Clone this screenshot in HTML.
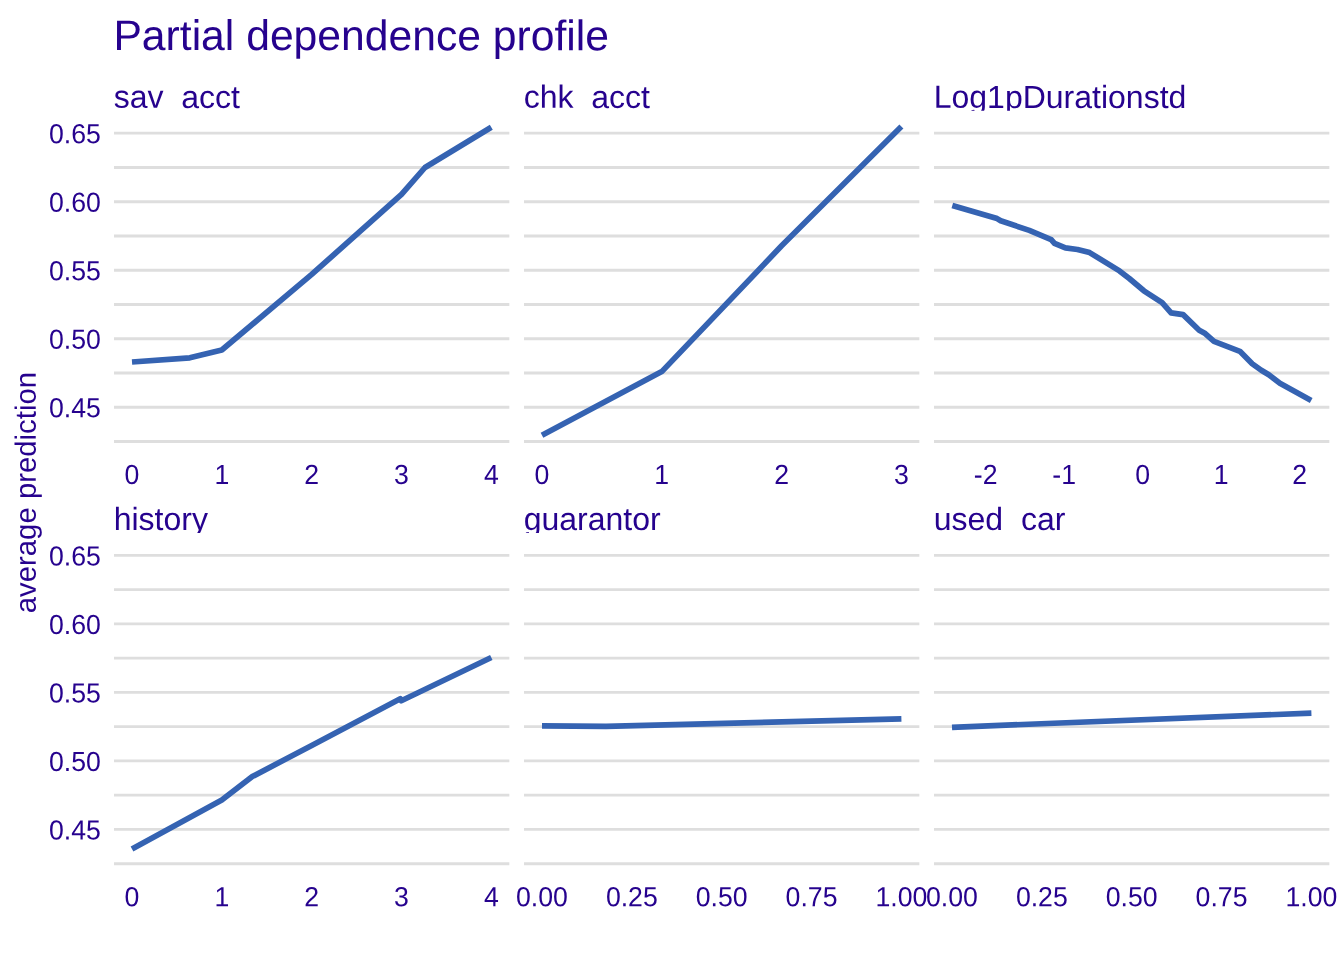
<!DOCTYPE html>
<html lang="en"><head><meta charset="utf-8"><title>Partial dependence profile</title>
<style>html,body{margin:0;padding:0;background:#fff}body{width:1344px;height:960px;overflow:hidden}svg{display:block}text{font-family:"Liberation Sans",sans-serif;fill:#26028e}.g{stroke:#dedede;stroke-width:2.845;fill:none}.l{stroke:#3563b2;stroke-width:5.69;fill:none;stroke-linejoin:round;stroke-linecap:butt}.t{font-size:42.67px}.s{font-size:32px}.a{font-size:26.67px}.y{font-size:29.33px}</style></head><body>
<svg width="1344" height="960" viewBox="0 0 1344 960">
<rect width="1344" height="960" fill="#fff"/>
<defs>
<clipPath id="s00"><rect x="114.00" y="70.70" width="395.33" height="40.00"/></clipPath>
<clipPath id="s01"><rect x="524.00" y="70.70" width="395.33" height="40.00"/></clipPath>
<clipPath id="s02"><rect x="934.00" y="70.70" width="395.33" height="40.00"/></clipPath>
<clipPath id="s10"><rect x="114.00" y="492.90" width="395.33" height="40.00"/></clipPath>
<clipPath id="s11"><rect x="524.00" y="492.90" width="395.33" height="40.00"/></clipPath>
<clipPath id="s12"><rect x="934.00" y="492.90" width="395.33" height="40.00"/></clipPath>
</defs>
<text class="t" transform="translate(113.40,50.00) rotate(0.03)">Partial dependence profile</text>
<text class="y" transform="translate(35.7,492.6) rotate(-90.03)" text-anchor="middle">average prediction</text>
<path class="g" d="M114.00 441.51H509.33M114.00 407.25H509.33M114.00 372.99H509.33M114.00 338.74H509.33M114.00 304.48H509.33M114.00 270.22H509.33M114.00 235.97H509.33M114.00 201.71H509.33M114.00 167.46H509.33M114.00 133.20H509.33"/>
<path class="l" d="M132.0 362.0 L189.8 357.8 L221.8 350.0 L311.7 274.4 L401.5 194.4 L425.0 167.5 L491.3 127.3"/>
<g clip-path="url(#s00)"><text class="s" transform="translate(113.70,107.85) rotate(0.03)">sav_acct</text></g>
<text class="a" transform="translate(131.97,484.07) scale(1,1.04) rotate(0.03)" text-anchor="middle">0</text>
<text class="a" transform="translate(221.82,484.07) scale(1,1.04) rotate(0.03)" text-anchor="middle">1</text>
<text class="a" transform="translate(311.66,484.07) scale(1,1.04) rotate(0.03)" text-anchor="middle">2</text>
<text class="a" transform="translate(401.51,484.07) scale(1,1.04) rotate(0.03)" text-anchor="middle">3</text>
<text class="a" transform="translate(491.36,484.07) scale(1,1.04) rotate(0.03)" text-anchor="middle">4</text>
<path class="g" d="M524.00 441.51H919.33M524.00 407.25H919.33M524.00 372.99H919.33M524.00 338.74H919.33M524.00 304.48H919.33M524.00 270.22H919.33M524.00 235.97H919.33M524.00 201.71H919.33M524.00 167.46H919.33M524.00 133.20H919.33"/>
<path class="l" d="M542.0 435.2 L661.8 371.6 L781.6 245.8 L901.4 126.4"/>
<g clip-path="url(#s01)"><text class="s" transform="translate(523.70,107.85) rotate(0.03)">chk_acct</text></g>
<text class="a" transform="translate(541.97,484.07) scale(1,1.04) rotate(0.03)" text-anchor="middle">0</text>
<text class="a" transform="translate(661.77,484.07) scale(1,1.04) rotate(0.03)" text-anchor="middle">1</text>
<text class="a" transform="translate(781.56,484.07) scale(1,1.04) rotate(0.03)" text-anchor="middle">2</text>
<text class="a" transform="translate(901.36,484.07) scale(1,1.04) rotate(0.03)" text-anchor="middle">3</text>
<path class="g" d="M934.00 441.51H1329.33M934.00 407.25H1329.33M934.00 372.99H1329.33M934.00 338.74H1329.33M934.00 304.48H1329.33M934.00 270.22H1329.33M934.00 235.97H1329.33M934.00 201.71H1329.33M934.00 167.46H1329.33M934.00 133.20H1329.33"/>
<path class="l" d="M952.3 205.4 L997.1 218.6 L1000.7 220.8 L1029.3 230.4 L1051.2 239.6 L1054.5 243.3 L1065.4 247.9 L1077.5 249.5 L1089.6 252.6 L1119.5 270.9 L1129.3 278.5 L1143.9 290.8 L1162.1 302.6 L1171.1 312.9 L1183.1 314.6 L1199.2 330.3 L1205.2 333.6 L1214.0 341.4 L1239.9 351.3 L1252.2 363.7 L1261.3 370.2 L1268.8 374.7 L1279.9 383.3 L1311.2 400.4"/>
<g clip-path="url(#s02)"><text class="s" transform="translate(933.70,107.85) rotate(0.03)">Log1pDurationstd</text></g>
<text class="a" transform="translate(985.70,484.07) scale(1,1.04) rotate(0.03)" text-anchor="middle">-2</text>
<text class="a" transform="translate(1064.20,484.07) scale(1,1.04) rotate(0.03)" text-anchor="middle">-1</text>
<text class="a" transform="translate(1142.70,484.07) scale(1,1.04) rotate(0.03)" text-anchor="middle">0</text>
<text class="a" transform="translate(1221.20,484.07) scale(1,1.04) rotate(0.03)" text-anchor="middle">1</text>
<text class="a" transform="translate(1299.70,484.07) scale(1,1.04) rotate(0.03)" text-anchor="middle">2</text>
<text class="a" transform="translate(100.90,417.33) scale(1,1.04) rotate(0.03)" text-anchor="end">0.45</text>
<text class="a" transform="translate(100.90,348.82) scale(1,1.04) rotate(0.03)" text-anchor="end">0.50</text>
<text class="a" transform="translate(100.90,280.30) scale(1,1.04) rotate(0.03)" text-anchor="end">0.55</text>
<text class="a" transform="translate(100.90,211.79) scale(1,1.04) rotate(0.03)" text-anchor="end">0.60</text>
<text class="a" transform="translate(100.90,143.28) scale(1,1.04) rotate(0.03)" text-anchor="end">0.65</text>
<path class="g" d="M114.00 863.71H509.33M114.00 829.45H509.33M114.00 795.19H509.33M114.00 760.94H509.33M114.00 726.68H509.33M114.00 692.42H509.33M114.00 658.17H509.33M114.00 623.91H509.33M114.00 589.66H509.33M114.00 555.40H509.33"/>
<path class="l" d="M132.0 848.9 L221.8 800.0 L252.3 776.6 L311.7 745.4 L400.3 698.7 L401.3 700.7 L491.3 657.5"/>
<g clip-path="url(#s10)"><text class="s" transform="translate(113.70,530.05) rotate(0.03)">history</text></g>
<text class="a" transform="translate(131.97,906.27) scale(1,1.04) rotate(0.03)" text-anchor="middle">0</text>
<text class="a" transform="translate(221.82,906.27) scale(1,1.04) rotate(0.03)" text-anchor="middle">1</text>
<text class="a" transform="translate(311.66,906.27) scale(1,1.04) rotate(0.03)" text-anchor="middle">2</text>
<text class="a" transform="translate(401.51,906.27) scale(1,1.04) rotate(0.03)" text-anchor="middle">3</text>
<text class="a" transform="translate(491.36,906.27) scale(1,1.04) rotate(0.03)" text-anchor="middle">4</text>
<path class="g" d="M524.00 863.71H919.33M524.00 829.45H919.33M524.00 795.19H919.33M524.00 760.94H919.33M524.00 726.68H919.33M524.00 692.42H919.33M524.00 658.17H919.33M524.00 623.91H919.33M524.00 589.66H919.33M524.00 555.40H919.33"/>
<path class="l" d="M542.0 725.8 L606.0 726.4 L901.4 718.8"/>
<g clip-path="url(#s11)"><text class="s" transform="translate(523.70,530.05) rotate(0.03)">guarantor</text></g>
<text class="a" transform="translate(541.97,906.27) scale(1,1.04) rotate(0.03)" text-anchor="middle">0.00</text>
<text class="a" transform="translate(631.82,906.27) scale(1,1.04) rotate(0.03)" text-anchor="middle">0.25</text>
<text class="a" transform="translate(721.66,906.27) scale(1,1.04) rotate(0.03)" text-anchor="middle">0.50</text>
<text class="a" transform="translate(811.51,906.27) scale(1,1.04) rotate(0.03)" text-anchor="middle">0.75</text>
<text class="a" transform="translate(901.36,906.27) scale(1,1.04) rotate(0.03)" text-anchor="middle">1.00</text>
<path class="g" d="M934.00 863.71H1329.33M934.00 829.45H1329.33M934.00 795.19H1329.33M934.00 760.94H1329.33M934.00 726.68H1329.33M934.00 692.42H1329.33M934.00 658.17H1329.33M934.00 623.91H1329.33M934.00 589.66H1329.33M934.00 555.40H1329.33"/>
<path class="l" d="M952.0 727.3 L1311.4 713.1"/>
<g clip-path="url(#s12)"><text class="s" transform="translate(933.70,530.05) rotate(0.03)">used_car</text></g>
<text class="a" transform="translate(951.97,906.27) scale(1,1.04) rotate(0.03)" text-anchor="middle">0.00</text>
<text class="a" transform="translate(1041.82,906.27) scale(1,1.04) rotate(0.03)" text-anchor="middle">0.25</text>
<text class="a" transform="translate(1131.66,906.27) scale(1,1.04) rotate(0.03)" text-anchor="middle">0.50</text>
<text class="a" transform="translate(1221.51,906.27) scale(1,1.04) rotate(0.03)" text-anchor="middle">0.75</text>
<text class="a" transform="translate(1311.36,906.27) scale(1,1.04) rotate(0.03)" text-anchor="middle">1.00</text>
<text class="a" transform="translate(100.90,839.53) scale(1,1.04) rotate(0.03)" text-anchor="end">0.45</text>
<text class="a" transform="translate(100.90,771.02) scale(1,1.04) rotate(0.03)" text-anchor="end">0.50</text>
<text class="a" transform="translate(100.90,702.50) scale(1,1.04) rotate(0.03)" text-anchor="end">0.55</text>
<text class="a" transform="translate(100.90,633.99) scale(1,1.04) rotate(0.03)" text-anchor="end">0.60</text>
<text class="a" transform="translate(100.90,565.48) scale(1,1.04) rotate(0.03)" text-anchor="end">0.65</text>
</svg></body></html>
